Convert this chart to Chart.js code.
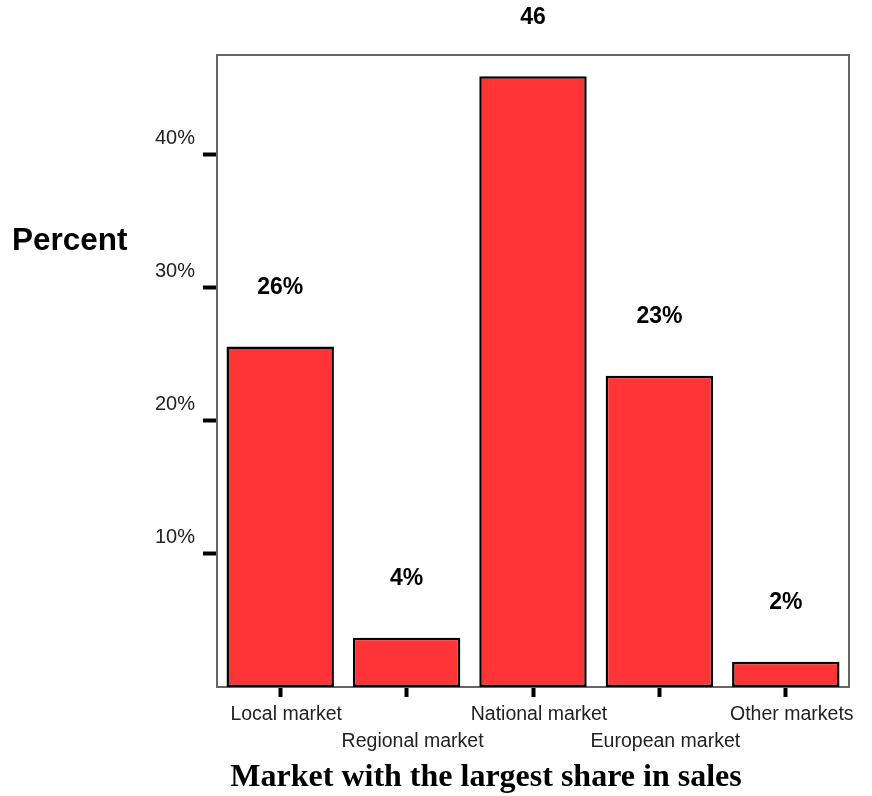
<!DOCTYPE html>
<html>
<head>
<meta charset="utf-8">
<script src="https://cdn.jsdelivr.net/npm/chart.js@4.4.1/dist/chart.umd.min.js"></script>
<style>
  html, body { margin: 0; padding: 0; background: #fff; }
  #wrap { width: 872px; height: 796px; }
</style>
</head>
<body>
<div id="wrap"><canvas id="chart" width="872" height="796"></canvas></div>
<script>
// data
const categories = ['Local market', 'Regional market', 'National market', 'European market', 'Other markets'];
const percents = [25.6, 3.7, 45.9, 23.4, 1.9];
const valueLabels = ['26%', '4%', '46', '23%', '2%'];
const yTicks = [10, 20, 30, 40];

// frame around the plot + free text (horizontal y title, x title)
const framePlugin = {
  id: 'frame',
  beforeDatasetsDraw(chart) {
    const {ctx, chartArea: a} = chart;
    ctx.save();
    ctx.strokeStyle = '#666';
    ctx.lineWidth = 2;
    ctx.strokeRect(a.left, a.top, a.right - a.left, a.bottom - a.top);
    ctx.restore();
  },
  afterDraw(chart) {
    const ctx = chart.ctx;
    const meta = chart.getDatasetMeta(0);
    ctx.save();
    ctx.fillStyle = '#000';
    ctx.textAlign = 'center';
    ctx.textBaseline = 'middle';
    ctx.font = 'bold 23px "Liberation Sans", Arial, sans-serif';
    meta.data.forEach((bar, i) => {
      ctx.fillText(valueLabels[i], bar.x, bar.y - 59);
    });
    ctx.font = 'bold 31.5px "Liberation Sans", Arial, sans-serif';
    ctx.textAlign = 'left';
    ctx.fillText('Percent', 12, 241);
    ctx.font = 'bold 32px "Liberation Serif", "Times New Roman", serif';
    ctx.textAlign = 'center';
    ctx.fillText('Market with the largest share in sales', 486, 778);
    ctx.restore();
  }
};

new Chart(document.getElementById('chart'), {
  type: 'bar',
  data: {
    labels: categories,
    datasets: [{
      data: percents,
      backgroundColor: '#ff3437',
      borderColor: '#000',
      borderWidth: 2.5,
      borderSkipped: false,
      barPercentage: 0.85,
      categoryPercentage: 1.0
    }]
  },
  options: {
    responsive: false,
    animation: false,
    layout: { padding: { top: 55, right: 23, left: 0, bottom: 0 } },
    plugins: {
      legend: { display: false },
      tooltip: { enabled: false }
    },
    scales: {
      x: {
        afterFit(scale) { scale.height = 109; },
        border: { display: true, color: '#666', width: 2 },
        grid: {
          offset: false,
          drawOnChartArea: false,
          tickLength: 10,
          tickWidth: 4,
          tickColor: '#000'
        },
        ticks: {
          color: '#222',
          padding: 4,
          labelOffset: 6,
          maxRotation: 0,
          autoSkip: false,
          font: { family: '"Liberation Sans", Arial, sans-serif', size: 19.5, lineHeight: 1.38 },
          callback(value, index) {
            const label = categories[index];
            return index % 2 ? ['', label] : label;
          }
        }
      },
      y: {
        min: 0,
        max: 47.5,
        afterFit(scale) { scale.width = 217; },
        afterBuildTicks(scale) { scale.ticks = yTicks.map(v => ({value: v})); },
        border: { display: true, color: '#666', width: 2 },
        grid: {
          drawOnChartArea: false,
          tickLength: 14,
          tickWidth: 4,
          tickColor: '#000'
        },
        ticks: {
          color: '#222',
          padding: 8,
          labelOffset: -16,
          font: { family: '"Liberation Sans", Arial, sans-serif', size: 20 },
          callback: v => v + '%'
        }
      }
    }
  },
  plugins: [framePlugin]
});
</script>
</body>
</html>
